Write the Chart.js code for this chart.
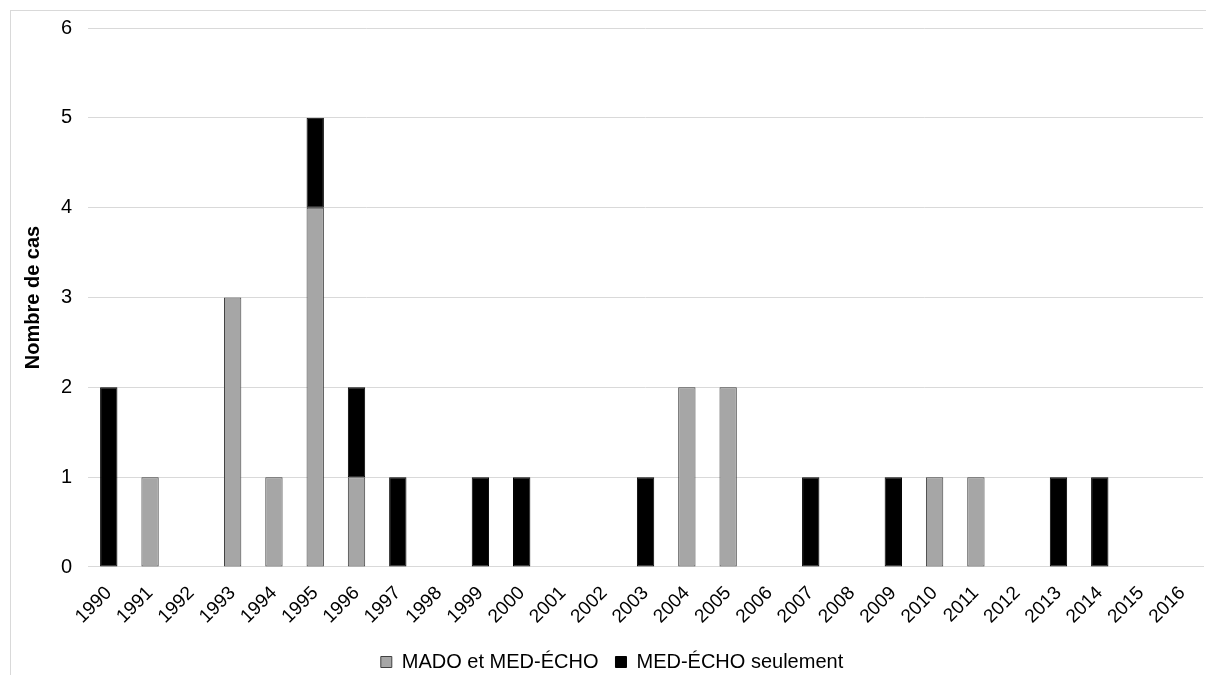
<!DOCTYPE html>
<html>
<head>
<meta charset="utf-8">
<script src="https://cdn.jsdelivr.net/npm/chart.js@4"></script>
<style>
  html, body { margin: 0; padding: 0; background: #fff; overflow: hidden; }
  #wrap { position: relative; width: 1206px; height: 675px; }
  #frame { position: absolute; left: 10px; top: 10px; width: 1220px; height: 700px; border: 1px solid #d9d9d9; }
  canvas { position: absolute; left: 0; top: 0; }
</style>
</head>
<body>
<div id="wrap">
  <div id="frame"></div>
  <canvas id="chart" width="1206" height="675"></canvas>
</div>
<script>
// annees
const annees = ['1990','1991','1992','1993','1994','1995','1996','1997','1998','1999','2000','2001','2002','2003','2004','2005','2006','2007','2008','2009','2010','2011','2012','2013','2014','2015','2016']
// cas MADO et MED-ECHO (gris)
const madoEtMedEcho = [0,1,0,3,1,4,1,0,0,0,0,0,0,0,2,2,0,0,0,0,1,1,0,0,0,0,0]
// cas MED-ECHO seulement (noir)
const medEchoSeul = [2,0,0,0,0,1,1,1,0,1,1,0,0,1,0,0,0,1,0,1,0,0,0,1,1,0,0]

Chart.defaults.font.family = '"Liberation Sans", Arial, sans-serif'
Chart.defaults.color = '#000'

let ctx = document.getElementById('chart')
new Chart(ctx, {
  type: 'bar',
  data: {
    labels: annees,
    datasets: [{
      label: 'MADO et MED-ÉCHO',
      data: madoEtMedEcho,
      backgroundColor: '#a6a6a6',
      borderColor: '#404040',
      borderWidth: 1,
      borderSkipped: false
    }, {
      label: 'MED-ÉCHO seulement',
      data: medEchoSeul,
      backgroundColor: '#000',
      borderColor: '#000',
      borderWidth: 1,
      borderSkipped: false
    }]
  },
  options: {
    responsive: false,
    animation: false,
    layout: { padding: { left: 21, top: 19, right: 3, bottom: -7 } },
    datasets: { bar: { categoryPercentage: 1, barPercentage: 0.42 } },
    scales: {
      x: {
        stacked: true,
        grid: { display: false },
        border: { color: '#d9d9d9' },
        ticks: { minRotation: 45, maxRotation: 45, font: { size: 19 }, padding: 7 }
      },
      y: {
        stacked: true,
        min: 0, max: 6,
        ticks: { stepSize: 1, font: { size: 20 }, padding: 16 },
        grid: { color: '#d9d9d9', drawTicks: false },
        border: { display: false },
        title: { display: true, text: 'Nombre de cas', font: { size: 20, weight: 'bold' }, padding: { top: 0, bottom: 0 } }
      }
    },
    plugins: {
      legend: {
        position: 'bottom',
        labels: { boxWidth: 11, boxHeight: 11, font: { size: 20 }, padding: 17 }
      },
      tooltip: { enabled: false }
    }
  }
})
</script>
</body>
</html>
